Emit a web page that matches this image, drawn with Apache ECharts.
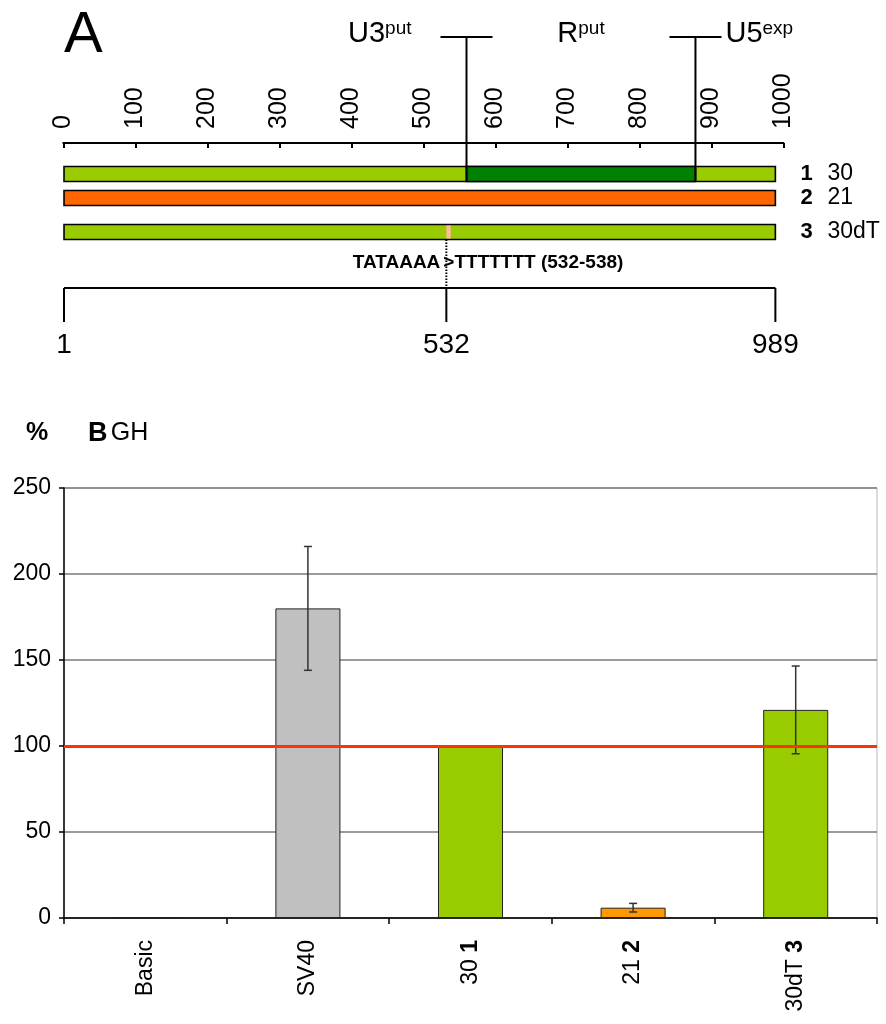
<!DOCTYPE html>
<html>
<head>
<meta charset="utf-8">
<script src="https://cdn.jsdelivr.net/npm/echarts@6/dist/echarts.min.js"></script>
<style>
  html, body { margin: 0; padding: 0; background: #fff; }
  #chart { width: 886px; height: 1024px; }
</style>
</head>
<body>
<div id="chart"></div>
<script>
// ---------- Panel A: construct map ----------
const constructIds = ['1', '2', '3'];
const constructNames = ['30', '21', '30dT'];
const constructStart = [1, 1, 1];
const constructEnd = [989, 989, 989];
const regionNames = ['U3', 'R', 'U5'];
const regionSup = ['put', 'put', 'exp'];
const regionStart = [1, 560, 878];
const regionEnd = [560, 878, 989];
const mutationRange = [532, 538];
const mutationText = ['TATAAAA', '>TTTTTTT (532-538)'];
const landmarks = [1, 532, 989];

// ---------- Panel B: GH expression ----------
const categories = ['Basic', 'SV40', '30', '21', '30dT'];
const categoryTags = ['', '', '1', '2', '3'];
const percentValues = [0, 180, 100, 6, 121];
const percentErrors = [0, 36, 0, 2.5, 25.5];
const referenceLevel = 100;

// ---------- styling / layout ----------
const FONT = '"Liberation Sans", Arial, Helvetica, sans-serif';
const constructColors = ['#99cc00', '#ff6600', '#99cc00'];
const regionColor = '#008000';
const mutationColor = '#ffbb99';
const barColors = ['#c0c0c0', '#c0c0c0', '#99cc00', '#ff9900', '#99cc00'];
// vertical layout of the map, in pixels below the ruler axis
const ROW_TRACK = [31, 55, 89];
const BAR_H = 15;
const BRACKET_TOP = -106;
const LABEL_TRACK = -109;
const MUT_TEXT_TRACK = 120;
const RULER_TRACK = 145;
const RULER_TICK = 34;
const RULER_LABEL = 57;

const chart = echarts.init(document.getElementById('chart'));

function renderConstruct(params, api) {
  const i = params.dataIndex;
  const yc = api.coord([0, ROW_TRACK[i]])[1];
  const x0 = api.coord([api.value(0), 0])[0];
  const x1 = api.coord([api.value(1), 0])[0];
  const children = [{
    type: 'rect',
    shape: { x: x0, y: yc - BAR_H / 2, width: x1 - x0, height: BAR_H },
    style: { fill: constructColors[i], stroke: '#000', lineWidth: 1.6 }
  }];
  if (i === 0) {
    const r0 = api.coord([regionStart[1], 0])[0];
    const r1 = api.coord([regionEnd[1], 0])[0];
    children.push({
      type: 'rect',
      shape: { x: r0, y: yc - BAR_H / 2, width: r1 - r0, height: BAR_H },
      style: { fill: regionColor, stroke: '#000', lineWidth: 1.6 }
    });
  }
  if (i === 2) {
    const m0 = api.coord([mutationRange[0], 0])[0];
    const m1 = api.coord([mutationRange[1], 0])[0];
    children.push({
      type: 'rect',
      shape: { x: m0, y: yc - BAR_H / 2 + 1, width: m1 - m0, height: BAR_H - 2 },
      style: { fill: mutationColor }
    });
  }
  children.push({
    type: 'text',
    style: { x: x1 + 25, y: yc, text: constructIds[i], font: 'bold 22px ' + FONT, fill: '#000', align: 'left', verticalAlign: 'middle' }
  });
  children.push({
    type: 'text',
    style: { x: x1 + 52, y: yc, text: constructNames[i], font: '23px ' + FONT, fill: '#000', align: 'left', verticalAlign: 'middle' }
  });
  return { type: 'group', children };
}

function renderRegion(params, api) {
  const i = params.dataIndex;
  const s = api.coord([api.value(0), 0])[0];
  const e = api.coord([api.value(1), 0])[0];
  const yTop = api.coord([0, BRACKET_TOP])[1];
  const yLab = api.coord([0, LABEL_TRACK])[1];
  const children = [];
  let x, align;
  if (i === 0) { x = e - 55; align = 'right'; }
  else if (i === regionNames.length - 1) { x = s + 30; align = 'left'; }
  else { x = (s + e) / 2; align = 'center'; }
  children.push({
    type: 'text',
    style: {
      x, y: yLab, align, verticalAlign: 'middle',
      text: '{m|' + regionNames[i] + '}{s|' + regionSup[i] + '}',
      rich: {
        m: { fontSize: 29, fontFamily: FONT, fill: '#000', lineHeight: 30 },
        s: { fontSize: 19, fontFamily: FONT, fill: '#000', lineHeight: 12, verticalAlign: 'top' }
      }
    }
  });
  // bracket at the start of every region after the first
  if (i > 0) {
    const yBottom = api.coord([0, ROW_TRACK[0] + BAR_H / 2])[1];
    children.push({
      type: 'line',
      shape: { x1: s, y1: yBottom, x2: s, y2: yTop },
      style: { stroke: '#000', lineWidth: 2 }
    });
    children.push({
      type: 'line',
      shape: { x1: s - 26, y1: yTop, x2: s + 26, y2: yTop },
      style: { stroke: '#000', lineWidth: 2 }
    });
  }
  return { type: 'group', children };
}

function renderMutation(params, api) {
  const x = api.coord([api.value(0), 0])[0];
  const yBar = api.coord([0, ROW_TRACK[2] + BAR_H / 2])[1];
  const yRuler = api.coord([0, RULER_TRACK])[1];
  const yText = api.coord([0, MUT_TEXT_TRACK])[1];
  return {
    type: 'group',
    children: [
      {
        type: 'line',
        shape: { x1: x, y1: yBar, x2: x, y2: yRuler },
        style: { stroke: '#000', lineWidth: 2, lineDash: [1.5, 1.5] }
      },
      {
        type: 'text',
        style: { x: x - 6, y: yText, text: mutationText[0], font: 'bold 19px ' + FONT, fill: '#000', align: 'right', verticalAlign: 'middle' }
      },
      {
        type: 'text',
        style: { x: x - 3, y: yText, text: mutationText[1], font: 'bold 19px ' + FONT, fill: '#000', align: 'left', verticalAlign: 'middle' }
      }
    ]
  };
}

function renderLandmark(params, api) {
  const i = params.dataIndex;
  const x = api.coord([api.value(0), 0])[0];
  const y0 = api.coord([0, RULER_TRACK])[1];
  const y1 = api.coord([0, RULER_TRACK + RULER_TICK])[1];
  const yl = api.coord([0, RULER_TRACK + RULER_LABEL])[1];
  const children = [
    { type: 'line', shape: { x1: x, y1: y0, x2: x, y2: y1 }, style: { stroke: '#000', lineWidth: 2 } },
    { type: 'text', style: { x, y: yl, text: String(landmarks[i]), font: '28px ' + FONT, fill: '#000', align: 'center', verticalAlign: 'middle' } }
  ];
  if (i === 0) {
    const xa = api.coord([landmarks[0], 0])[0];
    const xb = api.coord([landmarks[landmarks.length - 1], 0])[0];
    children.push({ type: 'line', shape: { x1: xa, y1: y0, x2: xb, y2: y0 }, style: { stroke: '#000', lineWidth: 2 } });
  }
  return { type: 'group', children };
}

function renderErrorBar(params, api) {
  const lo = api.coord([api.value(0), api.value(1)]);
  const hi = api.coord([api.value(0), api.value(2)]);
  const w = 4;
  const style = { stroke: '#333', lineWidth: 1.5 };
  return {
    type: 'group',
    children: [
      { type: 'line', shape: { x1: lo[0], y1: lo[1], x2: hi[0], y2: hi[1] }, style },
      { type: 'line', shape: { x1: hi[0] - w, y1: hi[1], x2: hi[0] + w, y2: hi[1] }, style },
      { type: 'line', shape: { x1: lo[0] - w, y1: lo[1], x2: lo[0] + w, y2: lo[1] }, style }
    ]
  };
}

const errorData = [];
percentValues.forEach((v, i) => {
  if (percentErrors[i] > 0) errorData.push([i, v - percentErrors[i], v + percentErrors[i]]);
});

const option = {
  animation: false,
  backgroundColor: '#fff',
  textStyle: { fontFamily: FONT },
  graphic: [
    { type: 'text', left: 64, top: 7, style: { text: 'A', font: '58px ' + FONT, fill: '#000' } },
    { type: 'text', left: 26, top: 421, style: { text: '%', font: 'bold 25px ' + FONT, fill: '#000' } },
    {
      type: 'text', left: 88, top: 420,
      style: {
        text: '{b|B} {n|GH}',
        rich: {
          b: { fontSize: 27, fontWeight: 'bold', fontFamily: FONT, fill: '#000' },
          n: { fontSize: 25, fontFamily: FONT, fill: '#000' }
        }
      }
    }
  ],
  grid: [
    { left: 63.3, width: 720, top: 143, height: 180 },
    { left: 64, right: 9, top: 488, bottom: 106, show: true, borderColor: '#b8b8b8', borderWidth: 1, backgroundColor: 'transparent' }
  ],
  xAxis: [
    {
      gridIndex: 0, type: 'value', position: 'top', min: 0, max: 1000, interval: 100,
      axisLine: { show: true, onZero: false, lineStyle: { color: '#000', width: 2 } },
      axisTick: { show: true, inside: true, length: 5, lineStyle: { color: '#000', width: 2 } },
      axisLabel: { rotate: -90, fontSize: 25, color: '#000', margin: 14, fontFamily: FONT, formatter: v => String(v) },
      splitLine: { show: false }
    },
    {
      gridIndex: 1, type: 'category', data: categories,
      axisLine: { lineStyle: { color: '#000', width: 1.5 } },
      axisTick: { show: true, length: 6, lineStyle: { color: '#000', width: 1.5 } },
      axisLabel: {
        rotate: 90, margin: 22, color: '#000', fontSize: 23, fontFamily: FONT,
        formatter: (v, i) => categoryTags[i] ? '{n|' + v + '} {b|' + categoryTags[i] + '}' : '{n|' + v + '}',
        rich: {
          n: { fontSize: 23, fontFamily: FONT, color: '#000' },
          b: { fontSize: 23, fontFamily: FONT, fontWeight: 'bold', color: '#000' }
        }
      }
    }
  ],
  yAxis: [
    { gridIndex: 0, type: 'value', min: 0, max: 180, inverse: true, show: false },
    {
      gridIndex: 1, type: 'value', min: 0, max: 250, interval: 50,
      axisLine: { show: true, lineStyle: { color: '#000', width: 1.5 } },
      axisTick: { show: true, length: 5, lineStyle: { color: '#000', width: 1.5 } },
      axisLabel: { fontSize: 23, color: '#000', margin: 13, fontFamily: FONT },
      splitLine: { show: true, lineStyle: { color: '#7a7a7a', width: 1.5 } }
    }
  ],
  series: [
    {
      type: 'custom', xAxisIndex: 0, yAxisIndex: 0, silent: true, z: 3,
      data: regionNames.map((n, i) => [regionStart[i], regionEnd[i]]),
      renderItem: renderRegion
    },
    {
      type: 'custom', xAxisIndex: 0, yAxisIndex: 0, silent: true, z: 2,
      data: constructIds.map((id, i) => [constructStart[i], constructEnd[i]]),
      renderItem: renderConstruct
    },
    {
      type: 'custom', xAxisIndex: 0, yAxisIndex: 0, silent: true, z: 2,
      data: [[mutationRange[0]]],
      renderItem: renderMutation
    },
    {
      type: 'custom', xAxisIndex: 0, yAxisIndex: 0, silent: true, z: 2,
      data: landmarks.map(v => [v]),
      renderItem: renderLandmark
    },
    {
      type: 'line', xAxisIndex: 1, yAxisIndex: 1, data: [], z: 1, silent: true,
      markLine: {
        silent: true, symbol: 'none', label: { show: false },
        lineStyle: { color: '#ff3300', width: 3, type: 'solid' },
        emphasis: { disabled: true },
        data: [{ yAxis: referenceLevel }]
      }
    },
    {
      type: 'bar', xAxisIndex: 1, yAxisIndex: 1, barWidth: '40%', z: 3, silent: true,
      data: percentValues.map((v, i) => ({
        value: v,
        itemStyle: { color: barColors[i], borderColor: '#222', borderWidth: 1 }
      }))
    },
    {
      type: 'custom', xAxisIndex: 1, yAxisIndex: 1, z: 4, silent: true,
      data: errorData,
      renderItem: renderErrorBar
    }
  ]
};

chart.setOption(option);
</script>
</body>
</html>
